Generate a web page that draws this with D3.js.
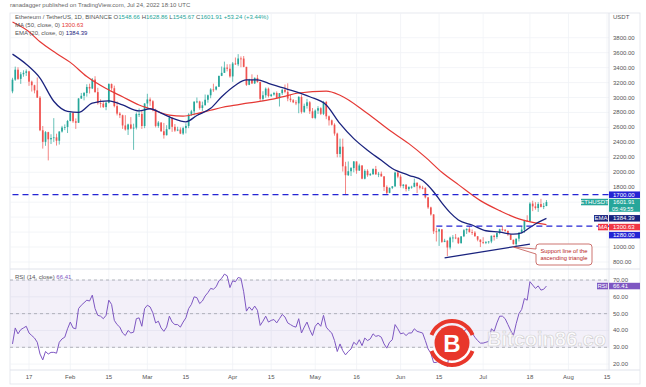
<!DOCTYPE html>
<html>
<head>
<meta charset="utf-8">
<script src="https://cdn.jsdelivr.net/npm/d3@7"></script>
<style>
body { margin: 0; background: #fff; }
svg { display: block; font-family: "Liberation Sans", Arial, sans-serif; }
</style>
</head>
<body>
<script>
// Width and Height
const w = 646;
const h = 387;

// ETH/USDT daily candles, Jan 11 -> Jul 24 2022
const firstDay = "2022-01-11";
const opens = [3082,3239,3372,3249,3311,3330,3350,3212,3164,3095,2998,2562,2407,2537,2441,2458,2467,2422,2545,2599,2606,2686,2792,2682,2662,2987,3023,3061,3141,3121,3240,3072,2925,2918,2872,2930,3180,3124,2885,2785,2763,2626,2572,2640,2585,2597,2780,2780,2619,2920,2974,2950,2835,2620,2665,2549,2496,2576,2729,2608,2558,2571,2518,2591,2620,2773,2815,2944,2947,2860,2896,2970,3030,3108,3106,3144,3290,3330,3400,3385,3282,3455,3444,3522,3521,3410,3170,3235,3189,3262,3208,2982,3030,3118,3020,3040,3061,2992,3058,3104,3076,2986,2964,2936,2922,3008,2808,2888,2936,2815,2727,2825,2857,2782,2940,2749,2695,2636,2518,2245,2342,2080,1961,2014,2056,2145,2023,2091,1914,2019,1961,1975,2043,1973,1980,1945,1804,1725,1792,1812,1997,1942,1818,1834,1775,1805,1806,1859,1814,1793,1789,1664,1530,1436,1210,1208,1237,1069,1085,994,1127,1127,1124,1052,1144,1225,1243,1199,1193,1144,1099,1067,1059,1067,1074,1151,1134,1187,1238,1233,1216,1168,1097,1038,1112,1191,1233,1354,1340,1581,1544,1522,1575,1537,1548.66];
const highs = [3264,3413,3404,3340,3364,3376,3357,3226,3171,3267,3019,2619,2551,2542,2509,2724,2516,2549,2621,2640,2700,2814,2806,2720,2992,3061,3074,3177,3185,3261,3285,3130,2976,2951,2946,3190,3188,3159,2950,2805,2771,2764,2650,2738,2650,2800,2854,2835,2924,3050,3000,2965,2850,2685,2670,2660,2630,2760,2734,2645,2609,2600,2610,2655,2790,2835,2950,3000,2957,2945,3040,3040,3125,3185,3155,3290,3415,3480,3445,3445,3475,3535,3580,3550,3555,3410,3250,3310,3270,3303,3212,3084,3134,3133,3050,3075,3082,3060,3112,3174,3190,3036,2980,2965,3018,3038,2918,2982,2952,2860,2840,2885,2870,2955,2955,2760,2705,2655,2530,2450,2450,2140,2145,2070,2150,2145,2115,2095,2040,2040,1990,2053,2085,2005,2010,1950,1825,1796,1815,2010,2015,1970,1843,1840,1810,1820,1915,1867,1834,1819,1800,1670,1540,1440,1260,1245,1237,1110,1092,1140,1160,1175,1130,1140,1240,1250,1280,1235,1213,1147,1102,1131,1080,1080,1154,1166,1193,1245,1282,1235,1220,1170,1100,1113,1200,1280,1365,1425,1600,1620,1600,1600,1645,1590,1628.86];
const lows = [3057,3222,3235,3182,3278,3288,3156,3080,3056,2994,2550,2317,2354,2159,2378,2406,2357,2371,2531,2564,2525,2681,2661,2580,2661,2980,2962,3012,3054,3113,3065,2905,2865,2860,2830,2922,3090,2868,2760,2725,2580,2557,2499,2575,2300,2573,2740,2580,2590,2860,2890,2815,2600,2595,2540,2450,2492,2575,2540,2540,2550,2510,2500,2520,2590,2755,2760,2924,2838,2820,2895,2930,2990,3075,3095,3140,3286,3330,3350,3265,3210,3436,3419,3405,3405,3155,3165,3180,3180,3197,2955,2951,2997,3000,3007,3025,2986,2880,3034,3056,2950,2938,2925,2898,2790,2785,2795,2852,2780,2720,2710,2780,2765,2765,2710,2625,2625,2490,2200,2200,2010,1700,1950,1950,2000,1980,2018,1906,1905,1940,1953,1965,1965,1935,1942,1750,1705,1720,1775,1805,1920,1795,1785,1744,1750,1780,1800,1722,1770,1773,1650,1510,1420,1175,1075,1015,1055,1065,880,968,1063,1105,1040,1046,1133,1175,1195,1162,1140,1077,1000,1040,1039,1045,1051,1087,1110,1170,1210,1203,1150,1093,1035,1006,1075,1184,1190,1338,1335,1480,1500,1470,1530,1508,1545.67];
const closes = [3239,3372,3249,3311,3330,3350,3212,3164,3095,2998,2562,2407,2537,2441,2458,2467,2422,2545,2599,2606,2686,2792,2682,2662,2987,3023,3061,3141,3121,3240,3072,2925,2918,2872,2930,3180,3124,2885,2785,2763,2626,2572,2640,2585,2597,2780,2780,2619,2920,2974,2950,2835,2620,2665,2549,2496,2576,2729,2608,2558,2571,2518,2591,2620,2773,2815,2944,2947,2860,2896,2970,3030,3108,3106,3144,3290,3330,3400,3385,3282,3455,3444,3522,3521,3410,3170,3235,3189,3262,3208,2982,3030,3118,3020,3040,3061,2992,3058,3104,3076,2986,2964,2936,2922,3008,2808,2888,2936,2815,2727,2825,2857,2782,2940,2749,2695,2636,2518,2245,2342,2080,1961,2014,2056,2145,2023,2091,1914,2019,1961,1975,2043,1973,1980,1945,1804,1725,1792,1812,1997,1942,1818,1834,1775,1805,1806,1859,1814,1793,1789,1664,1530,1436,1210,1208,1237,1069,1085,994,1127,1127,1124,1052,1144,1225,1243,1199,1193,1144,1099,1067,1059,1067,1074,1151,1134,1187,1238,1233,1216,1168,1097,1038,1112,1191,1233,1354,1340,1581,1544,1522,1575,1537,1550,1601.91];

// RSI (14) per candle
const rsiValues = [32,41.5,38,40.5,41.5,42.5,38.5,37,35.5,33,26,22.5,27.5,26,27,27,26.5,33,35,36,41,45,41.5,41,53,55,56.5,58,57.5,61,53,49,48.5,47,49,58,55.5,46,43.5,42,38.5,37,40,38.5,39,47,47.5,42.5,53,55,54,50.5,44.5,45.5,41.5,39.5,42,48.5,45,43.5,43.5,42,45,47.5,53,55.5,60,59.5,56,57.5,60.5,62.5,65,64.5,66,69.5,71,73.5,72.5,65.5,69.5,69,71.5,71,63,51.5,54,52,54.5,52,43,45.5,48.5,45,46,46.5,44.5,47,49.5,48,44.5,43.5,42.5,42,47,38.5,42,45,40.5,37,42.5,44.5,42.5,49,42,40,38.5,34,27.5,32,28,25.5,27.5,29,33,31.5,34.5,31,35.5,34,35,38,36.5,37,36,32,29.5,33,34.5,43.5,41,38,38.5,37,38.5,38.5,41,39.5,39,38.5,34,29,26.5,21,21,22,20,20.5,18.5,31,31,31,29.5,34,39.5,41,39,38.5,36,34,32.5,32.5,33,33.5,41,39.5,44.5,48.5,48.5,47,43.5,40,37,44,50,52.5,59,58,69,67,65,66.5,64,64.5,66.41];

// moving averages
const maDates = ["2022-01-11","2022-01-17","2022-01-21","2022-01-27","2022-02-01","2022-02-07","2022-02-14","2022-02-20","2022-02-26","2022-03-02","2022-03-09","2022-03-14","2022-03-19","2022-03-24","2022-03-28","2022-04-02","2022-04-07","2022-04-12","2022-04-19","2022-04-25","2022-05-05","2022-05-10","2022-05-20","2022-05-28","2022-06-04","2022-06-10","2022-06-16","2022-06-22","2022-06-30","2022-07-07","2022-07-14","2022-07-19","2022-07-24"];
const maValues = [4010,3880,3745,3590,3470,3280,3120,3010,2900,2850,2765,2750,2785,2830,2866,2897,2928,2954,3008,3060,3085,3031,2785,2561,2383,2203,2000,1835,1621,1487,1376,1330,1300.63];
const emaDates = ["2022-01-11","2022-01-16","2022-01-21","2022-01-26","2022-01-31","2022-02-04","2022-02-09","2022-02-15","2022-02-20","2022-02-26","2022-03-02","2022-03-06","2022-03-10","2022-03-15","2022-03-19","2022-03-24","2022-03-28","2022-04-02","2022-04-06","2022-04-10","2022-04-14","2022-04-22","2022-04-29","2022-05-05","2022-05-10","2022-05-15","2022-05-20","2022-05-25","2022-05-29","2022-06-04","2022-06-09","2022-06-13","2022-06-16","2022-06-19","2022-06-22","2022-06-27","2022-07-02","2022-07-07","2022-07-12","2022-07-15","2022-07-18","2022-07-21","2022-07-24"];
const emaValues = [3580,3445,3260,2950,2815,2800,2925,2955,2900,2820,2850,2790,2725,2675,2760,2855,3010,3165,3235,3235,3190,3100,3010,2900,2650,2450,2295,2160,2050,1960,1890,1740,1590,1460,1362,1295,1218,1200,1172,1190,1262,1330,1384.39];

// horizontal levels and trend line
const levels = [1700, 1280];
const levelStarts = ["2022-01-11", "2022-06-14"];
const supportDates = ["2022-06-17", "2022-07-18"];
const supportPrices = [855, 1040];

// axis ticks
const priceGrid = d3.range(800, 3801, 200);
const priceLabels = [800,1000,1800,2000,2200,2400,2600,2800,3000,3200,3400,3600,3800];
const rsiTicks = [20,30,40,50,60,70];
const tickDates = ["2022-01-17","2022-02-01","2022-02-15","2022-03-01","2022-03-15","2022-04-01","2022-04-15","2022-05-01","2022-05-16","2022-06-01","2022-06-15","2022-07-01","2022-07-18","2022-08-01","2022-08-15"];
const tickLabels = ["17","Feb","15","Mar","15","Apr","15","May","16","Jun","15","Jul","18","Aug","15"];

const green = "#26a69a";
const red = "#ef5350";
const blue = "#2424d4";
const navy = "#1a237e";
const purple = "#7e57c2";

const dates = d3.utcDay.range(new Date(firstDay), d3.utcDay.offset(new Date(firstDay), closes.length));

// panels
const left = 10, axisX = 609, right = 640;
const priceTop = 13, priceBottom = 269, rsiBottom = 370;

const x = d3.scaleUtc()
    .domain([new Date("2022-01-17"), new Date("2022-08-15")])
    .range([29, 607]);
const y = d3.scaleLinear().domain([800, 3800]).range([262, 37.7]);
const yr = d3.scaleLinear().domain([30, 70]).range([347.3, 280]);

const svg = d3.select("body").append("svg")
    .attr("width", w)
    .attr("height", h);

const defs = svg.append("defs");
defs.append("clipPath").attr("id", "clipPrice")
    .append("rect").attr("x", left).attr("y", priceTop).attr("width", axisX - left).attr("height", priceBottom - priceTop);
defs.append("clipPath").attr("id", "clipRsi")
    .append("rect").attr("x", left).attr("y", priceBottom).attr("width", axisX - left).attr("height", rsiBottom - priceBottom);
defs.append("clipPath").attr("id", "clipAll")
    .append("rect").attr("x", left).attr("y", priceTop).attr("width", axisX - left).attr("height", rsiBottom - priceTop);

// header
svg.append("text").attr("x", 10).attr("y", 7).attr("font-size", 6).attr("fill", "#666")
    .text("ranadagger published on TradingView.com, Jul 24, 2022 18:10 UTC");

// frame
svg.append("rect").attr("x", left).attr("y", priceTop).attr("width", right - left).attr("height", 384 - priceTop)
    .attr("fill", "none").attr("stroke", "#e0e3eb").attr("stroke-width", 0.8);

// grid
const grid = svg.append("g").attr("stroke", "#f0f2f6").attr("stroke-width", 0.8);
grid.selectAll(".hg").data(priceGrid).enter().append("line")
    .attr("x1", left).attr("x2", axisX).attr("y1", d => y(d)).attr("y2", d => y(d));
grid.selectAll(".rg").data(rsiTicks).enter().append("line")
    .attr("x1", left).attr("x2", axisX).attr("y1", d => yr(d)).attr("y2", d => yr(d));
grid.selectAll(".vg").data(tickDates).enter().append("line")
    .attr("x1", d => x(new Date(d))).attr("x2", d => x(new Date(d)))
    .attr("y1", priceTop).attr("y2", rsiBottom);

// separators
svg.append("line").attr("x1", left).attr("x2", right).attr("y1", priceBottom).attr("y2", priceBottom)
    .attr("stroke", "#e0e3eb").attr("stroke-width", 1);
svg.append("line").attr("x1", left).attr("x2", right).attr("y1", rsiBottom).attr("y2", rsiBottom)
    .attr("stroke", "#e0e3eb").attr("stroke-width", 1);
svg.append("line").attr("x1", axisX).attr("x2", axisX).attr("y1", priceTop).attr("y2", rsiBottom)
    .attr("stroke", "#e0e3eb").attr("stroke-width", 1);

// RSI band
const rsiG = svg.append("g").attr("clip-path", "url(#clipRsi)");
rsiG.append("rect").attr("x", left).attr("width", axisX - left)
    .attr("y", yr(70)).attr("height", yr(30) - yr(70))
    .attr("fill", purple).attr("fill-opacity", 0.09);
rsiG.selectAll(".band").data([70, 50, 30]).enter().append("line")
    .attr("x1", left).attr("x2", axisX).attr("y1", d => yr(d)).attr("y2", d => yr(d))
    .attr("stroke", "#9598a1").attr("stroke-width", 0.7).attr("stroke-dasharray", "3,3");
rsiG.append("path").datum(rsiValues)
    .attr("fill", "none").attr("stroke", purple).attr("stroke-width", 1)
    .attr("d", d3.line().x((d, i) => x(dates[i])).y(d => yr(d)));

// price pane
const priceG = svg.append("g").attr("clip-path", "url(#clipPrice)");
const cw = 1.7;
const candles = priceG.selectAll(".candle").data(closes).enter().append("g");
candles.append("line")
    .attr("x1", (d, i) => x(dates[i])).attr("x2", (d, i) => x(dates[i]))
    .attr("y1", (d, i) => y(highs[i])).attr("y2", (d, i) => y(lows[i]))
    .attr("stroke", (d, i) => d >= opens[i] ? green : red).attr("stroke-width", 0.7);
candles.append("rect")
    .attr("x", (d, i) => x(dates[i]) - cw / 2)
    .attr("width", cw)
    .attr("y", (d, i) => y(Math.max(d, opens[i])))
    .attr("height", (d, i) => Math.max(0.8, Math.abs(y(d) - y(opens[i]))))
    .attr("fill", (d, i) => d >= opens[i] ? green : red);

const avgLine = d3.line().x(d => x(new Date(d[0]))).y(d => y(d[1])).curve(d3.curveMonotoneX);
priceG.append("path").datum(d3.zip(maDates, maValues))
    .attr("fill", "none").attr("stroke", "#e53935").attr("stroke-width", 1.2).attr("d", avgLine);
priceG.append("path").datum(d3.zip(emaDates, emaValues))
    .attr("fill", "none").attr("stroke", navy).attr("stroke-width", 1.3).attr("d", avgLine);

// dashed levels
priceG.selectAll(".lvl").data(levels).enter().append("line")
    .attr("x1", (d, i) => x(new Date(levelStarts[i]))).attr("x2", axisX)
    .attr("y1", d => y(d)).attr("y2", d => y(d))
    .attr("stroke", blue).attr("stroke-width", 1.3).attr("stroke-dasharray", "6,4");

// support line of the triangle
priceG.append("line")
    .attr("x1", x(new Date(supportDates[0]))).attr("y1", y(supportPrices[0]))
    .attr("x2", x(new Date(supportDates[1]))).attr("y2", y(supportPrices[1]))
    .attr("stroke", navy).attr("stroke-width", 1.3);

// callout
const bx = 536, by = 244, bw = 56, bh = 21, r = 3;
const tipX = x(new Date("2022-07-12")), tipY = y(1000);
priceG.append("path")
    .attr("d", `M${bx + r},${by} H${bx + bw - r} Q${bx + bw},${by} ${bx + bw},${by + r} V${by + bh - r} Q${bx + bw},${by + bh} ${bx + bw - r},${by + bh} H${bx + r} Q${bx},${by + bh} ${bx},${by + bh - r} V${by + 10} L${tipX},${tipY} L${bx},${by + 5} V${by + r} Q${bx},${by} ${bx + r},${by} Z`)
    .attr("fill", "#fff").attr("stroke", "#c0504d").attr("stroke-width", 0.8);
priceG.append("text").attr("x", bx + bw / 2).attr("y", by + 8.5).attr("text-anchor", "middle")
    .attr("font-size", 5.8).attr("fill", "#b71c1c").text("Support line of the");
priceG.append("text").attr("x", bx + bw / 2).attr("y", by + 16).attr("text-anchor", "middle")
    .attr("font-size", 5.8).attr("fill", "#b71c1c").text("ascending triangle");

// watermark
const wm = svg.append("g").attr("clip-path", "url(#clipAll)");
wm.append("text").attr("x", 487).attr("y", 346).attr("font-size", 20).attr("font-weight", "bold")
    .attr("fill", "#fff").attr("fill-opacity", 0.75)
    .attr("stroke", "#cfcfcf").attr("stroke-width", 0.6).text("Bitcoin86.co");
const lx = 452, ly = 343;
const ring = d3.arc().innerRadius(20).outerRadius(24);
wm.append("path").attr("transform", `translate(${lx},${ly})`)
    .attr("d", ring({ startAngle: -1.2, endAngle: 1.2 })).attr("fill", "#e8372b");
wm.append("path").attr("transform", `translate(${lx},${ly})`)
    .attr("d", ring({ startAngle: Math.PI - 1.2, endAngle: Math.PI + 1.2 })).attr("fill", "#e8372b");
wm.append("circle").attr("cx", lx).attr("cy", ly).attr("r", 17.5).attr("fill", "#e8372b");
wm.append("text").attr("x", lx).attr("y", ly + 8.5).attr("text-anchor", "middle")
    .attr("font-size", 24).attr("font-weight", "bold").attr("fill", "#fff").text("B");

// legend
const leg = svg.append("g").attr("font-size", 6);
const l1 = leg.append("text").attr("x", 15).attr("y", 19).attr("fill", "#555");
l1.append("tspan").text("Ethereum / TetherUS, 1D, BINANCE  ");
l1.append("tspan").text("O").attr("fill", "#555");
l1.append("tspan").text("1548.66  ").attr("fill", green);
l1.append("tspan").text("H").attr("fill", "#555");
l1.append("tspan").text("1628.86  ").attr("fill", green);
l1.append("tspan").text("L").attr("fill", "#555");
l1.append("tspan").text("1545.67  ").attr("fill", green);
l1.append("tspan").text("C").attr("fill", "#555");
l1.append("tspan").text("1601.91  +53.24 (+3.44%)").attr("fill", green);
const l2 = leg.append("text").attr("x", 15).attr("y", 27).attr("fill", "#555");
l2.append("tspan").text("MA (50, close, 0)  ");
l2.append("tspan").text("1300.63").attr("fill", "#e53935");
const l3 = leg.append("text").attr("x", 15).attr("y", 35).attr("fill", "#555");
l3.append("tspan").text("EMA (20, close, 0)  ");
l3.append("tspan").text("1384.39").attr("fill", navy);
const l4 = leg.append("text").attr("x", 15).attr("y", 278.5).attr("fill", "#555");
l4.append("tspan").text("RSI (14, close)  ");
l4.append("tspan").text("66.41").attr("fill", purple);

// right axis labels
const ax = svg.append("g").attr("font-size", 6).attr("fill", "#555");
ax.append("text").attr("x", 613).attr("y", 19).text("USDT");
ax.selectAll(".pl").data(priceLabels).enter().append("text")
    .attr("x", 613).attr("y", d => y(d) + 2).text(d => d.toFixed(2));
ax.selectAll(".rl").data(rsiTicks).enter().append("text")
    .attr("x", 613).attr("y", d => yr(d) + 2).text(d => d.toFixed(2));

// bottom axis labels
svg.append("g").attr("font-size", 6).attr("fill", "#555")
    .selectAll("text").data(tickDates).enter().append("text")
    .attr("x", d => x(new Date(d))).attr("y", 379).attr("text-anchor", "middle")
    .text((d, i) => tickLabels[i]);

// price tags on the axis
function tag(yc, value, color, label, lw, h2) {
    const hh = h2 || 6.5;
    svg.append("rect").attr("x", axisX).attr("y", yc - 3.25).attr("width", right - axisX).attr("height", hh)
        .attr("fill", color);
    svg.append("text").attr("x", 613).attr("y", yc + 2).attr("font-size", 6).attr("fill", "#fff").text(value);
    if (label) {
        svg.append("rect").attr("x", axisX - 1 - lw).attr("y", yc - 3.25).attr("width", lw).attr("height", 6.5)
            .attr("fill", color);
        svg.append("text").attr("x", axisX - 1 - lw / 2).attr("y", yc + 2).attr("text-anchor", "middle")
            .attr("font-size", 6).attr("fill", "#fff").text(label);
    }
}
tag(y(1700), "1700.00", blue);
tag(y(closes[closes.length - 1]), "1601.91", green, "ETHUSDT", 27, 13);
svg.append("text").attr("x", 612).attr("y", y(closes[closes.length - 1]) + 8.5)
    .attr("font-size", 5.5).attr("fill", "#fff").text("05:49:55");
tag(y(emaValues[emaValues.length - 1]), "1384.39", navy, "EMA", 14);
tag(y(maValues[maValues.length - 1]) + 2.5, "1300.63", "#f23645", "MA", 10);
tag(y(1280) + 9, "1280.00", blue);
tag(yr(rsiValues[rsiValues.length - 1]), "66.41", purple, "RSI", 11);
</script>
</body>
</html>
